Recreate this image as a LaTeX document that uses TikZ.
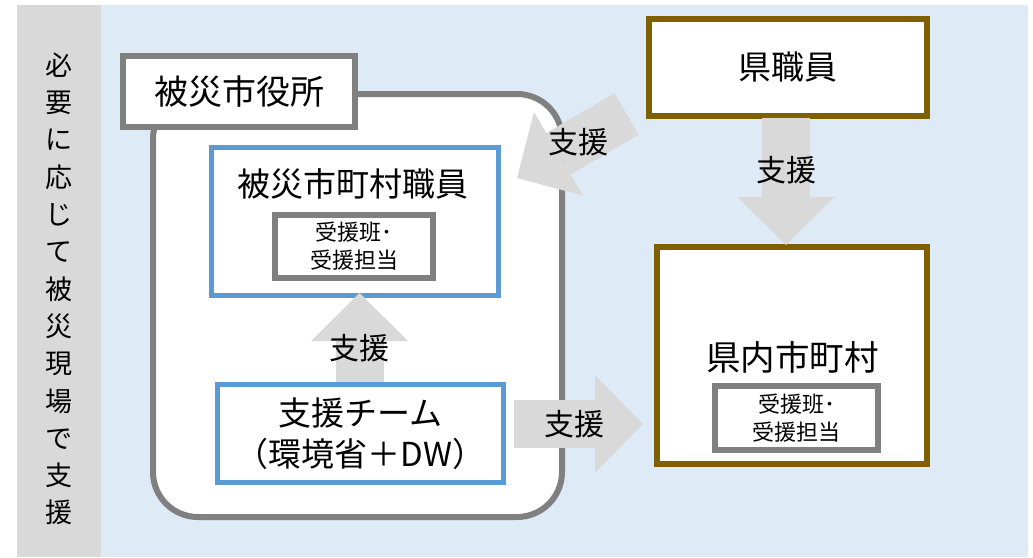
\documentclass[tikz,border=0pt]{standalone}
\usepackage{fontspec}
\setmainfont{Noto Sans CJK JP}
\usepackage{tikz}
\usetikzlibrary{arrows.meta,positioning}
\definecolor{bgblue}{HTML}{DEEAF6}
\definecolor{bargray}{HTML}{D9D9D9}
\definecolor{boxgray}{HTML}{808080}
\definecolor{boxblue}{HTML}{5B9BD5}
\definecolor{boxbrown}{HTML}{7F6000}
\definecolor{arrowgray}{HTML}{D9D9D9}
\tikzset{
 graybox/.style={draw=boxgray,line width=6pt,fill=white,inner sep=0pt},
 bluebox/.style={draw=boxblue,line width=5pt,fill=white,inner sep=0pt},
 brownbox/.style={draw=boxbrown,line width=6pt,fill=white,inner sep=0pt},
 bigarrow/.style={draw=arrowgray,line width=48pt,-{Triangle[length=48pt,width=97pt,line width=0pt,fill=arrowgray]}},
 shien/.style={font=\fontsize{30}{30}\selectfont,inner sep=0pt},
 recv/.style={font=\fontsize{22}{28}\selectfont,align=center}
}

\begin{document}
\begin{tikzpicture}[x=1pt,y=-1pt]
 \useasboundingbox (0,0) rectangle (1033,557);
 \fill[bargray] (17,5) rectangle (101,557);
 \fill[bgblue] (101,5) rectangle (1028,557);
 \node[font=\fontsize{27}{37.3}\selectfont,align=center,inner sep=0pt] (side) at (59,289)
  {必\\要\\に\\応\\じ\\て\\被\\災\\現\\場\\で\\支\\援};
 % city office
 \node[graybox,rounded corners=45pt,minimum width=409pt,minimum height=423pt] (city) at (357.5,305.5) {};
 \node[graybox,minimum width=232pt,minimum height=71pt,font=\fontsize{34}{34}\selectfont] (office) at (239,91.5) {被災市役所};
 \node[bluebox,minimum width=287pt,minimum height=148pt] (staff) at (355,221.5) {};
 \node[font=\fontsize{33}{33}\selectfont] (stafftext) at (353,184) {被災市町村職員};
 \node[graybox,minimum width=158pt,minimum height=63pt,recv] (staffrecv) at (354,246.5) {受援班･\\受援担当};
 \node[bluebox,minimum width=286pt,minimum height=98pt,align=center,font=\fontsize{33}{41}\selectfont] (team) at (360.5,433.5)
  {支援チーム\\（環境省＋DW）};
 % prefecture
 \node[brownbox,minimum width=278pt,minimum height=97pt,font=\fontsize{33}{33}\selectfont] (pref) at (788,67.5) {県職員};
 \node[brownbox,minimum width=270pt,minimum height=217pt] (towns) at (792,355.5) {};
 \node[font=\fontsize{34.5}{34.5}\selectfont] (townstext) at (792.5,357) {県内市町村};
 \node[graybox,minimum width=163pt,minimum height=64pt,recv] (townsrecv) at (796.5,418) {受援班･\\受援担当};
 % arrows
 \coordinate (upfrom) at (359.5,382);
 \coordinate (upto) at (359.5,293);
 \coordinate (rfrom) at (514,424);
 \coordinate (rto) at (643,424);
 \coordinate (dfrom) at (786,118);
 \coordinate (dto) at (786,245);
 \coordinate (diagfrom) at (626.5,114);
 \coordinate (diagto) at (517,178);
 \draw[bigarrow] (upfrom) -- (upto) node[shien,pos=.38] {支援};
 \draw[bigarrow] (rfrom) -- (rto) node[shien,pos=.47] {支援};
 \draw[bigarrow] (dfrom) -- (dto) node[shien,pos=.41] {支援};
 \draw[bigarrow] (diagfrom) -- (diagto) node[shien,pos=.44] {支援};
\end{tikzpicture}
\end{document}
